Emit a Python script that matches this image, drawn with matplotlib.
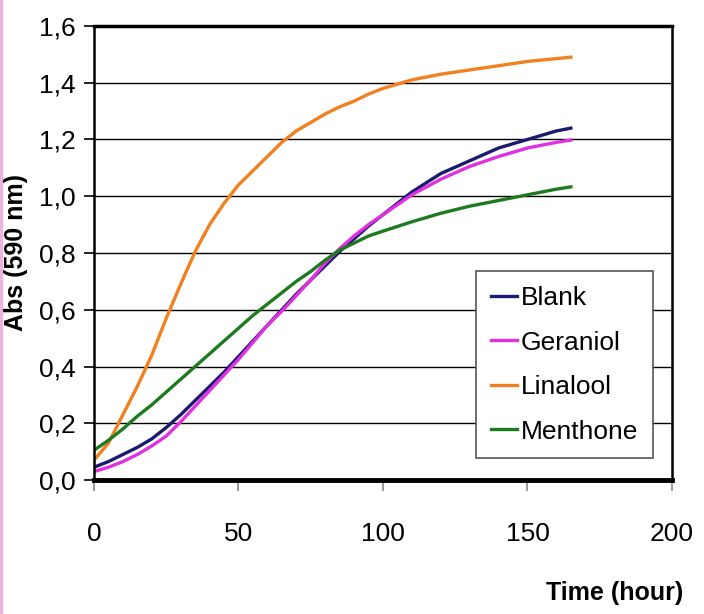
import matplotlib
matplotlib.use("Agg")
import matplotlib.pyplot as plt
from matplotlib.lines import Line2D

# values (time in hours, absorbance at 590 nm)
time_h = [0, 5, 10, 15, 20, 25, 30, 35, 40, 45, 50, 55, 60, 65, 70, 75, 80, 85,
          90, 95, 100, 110, 120, 130, 140, 150, 160, 165]

blank = [0.045, 0.065, 0.09, 0.115, 0.145, 0.185, 0.23, 0.28, 0.33, 0.38, 0.435,
         0.49, 0.545, 0.60, 0.655, 0.705, 0.755, 0.805, 0.85, 0.895, 0.935, 1.015,
         1.08, 1.125, 1.17, 1.20, 1.23, 1.24]
geraniol = [0.03, 0.045, 0.065, 0.09, 0.12, 0.155, 0.205, 0.26, 0.315, 0.37, 0.425,
            0.485, 0.545, 0.595, 0.65, 0.705, 0.765, 0.815, 0.86, 0.90, 0.935, 1.005,
            1.06, 1.105, 1.14, 1.17, 1.19, 1.198]
linalool = [0.07, 0.13, 0.23, 0.33, 0.44, 0.57, 0.69, 0.805, 0.90, 0.975, 1.04,
            1.09, 1.14, 1.19, 1.23, 1.26, 1.29, 1.315, 1.335, 1.36, 1.38, 1.41,
            1.43, 1.445, 1.46, 1.475, 1.485, 1.49]
menthone = [0.105, 0.14, 0.18, 0.225, 0.265, 0.31, 0.355, 0.40, 0.445, 0.49, 0.535,
            0.58, 0.62, 0.66, 0.70, 0.735, 0.775, 0.81, 0.835, 0.86, 0.877, 0.91,
            0.94, 0.965, 0.985, 1.005, 1.025, 1.033]

series = [("Blank", blank, "#1a1a6e"),
          ("Geraniol", geraniol, "#e030e0"),
          ("Linalool", linalool, "#f08020"),
          ("Menthone", menthone, "#1e7a1e")]

y_ticks = [0.0, 0.2, 0.4, 0.6, 0.8, 1.0, 1.2, 1.4, 1.6]
x_ticks = [0, 50, 100, 150, 200]

plt.rcParams["font.family"] = ["Liberation Sans", "DejaVu Sans"]

fig = plt.figure(figsize=(7.04, 6.14), dpi=100)
ax = fig.add_axes([0.1335, 0.2182, 0.821, 0.7395])

for name, vals, col in series:
    ax.plot(time_h, vals, color=col, linewidth=2.4, label=name)

ax.set_xlim(0, 200)
ax.set_ylim(0, 1.6)
ax.set_yticks(y_ticks)
ax.set_yticklabels([f"{v:.1f}".replace(".", ",") for v in y_ticks], fontsize=19)
ax.set_xticks(x_ticks)
ax.set_xticklabels([str(v) for v in x_ticks], fontsize=19)
ax.tick_params(axis="y", direction="out", length=7, width=1.2, pad=6)
ax.tick_params(axis="x", direction="out", length=8, width=1.2, pad=22,
               color="#888888")

ax.grid(axis="y", color="black", linewidth=1)
ax.set_axisbelow(True)
for side in ["left", "right"]:
    ax.spines[side].set_linewidth(1.8)
ax.spines["top"].set_linewidth(2.5)
ax.spines["bottom"].set_linewidth(3.5)

ax.set_ylabel("Abs (590 nm)", fontsize=18, fontweight="bold", labelpad=8)
fig.text(0.97, 0.015, "Time (hour)", fontsize=18,
         fontweight="bold", ha="right", va="bottom")

handles = [Line2D([0], [0], color=c, linewidth=2.4) for _, _, c in series]
leg = ax.legend(handles, [s[0] for s in series], loc="lower right",
                bbox_to_anchor=(0.967, 0.048), borderaxespad=0,
                prop={"size": 19},
                handlelength=1.0, handletextpad=0.15, labelspacing=0.78,
                borderpad=0.55, fancybox=False, framealpha=1)
leg.get_frame().set_edgecolor("#555555")
leg.get_frame().set_linewidth(1.2)

# pink strip along the left edge
fig.add_artist(Line2D([0.002, 0.002], [0, 1], color="#f0b0e0", linewidth=3,
                      transform=fig.transFigure))

fig.savefig("out.png", dpi=100)
